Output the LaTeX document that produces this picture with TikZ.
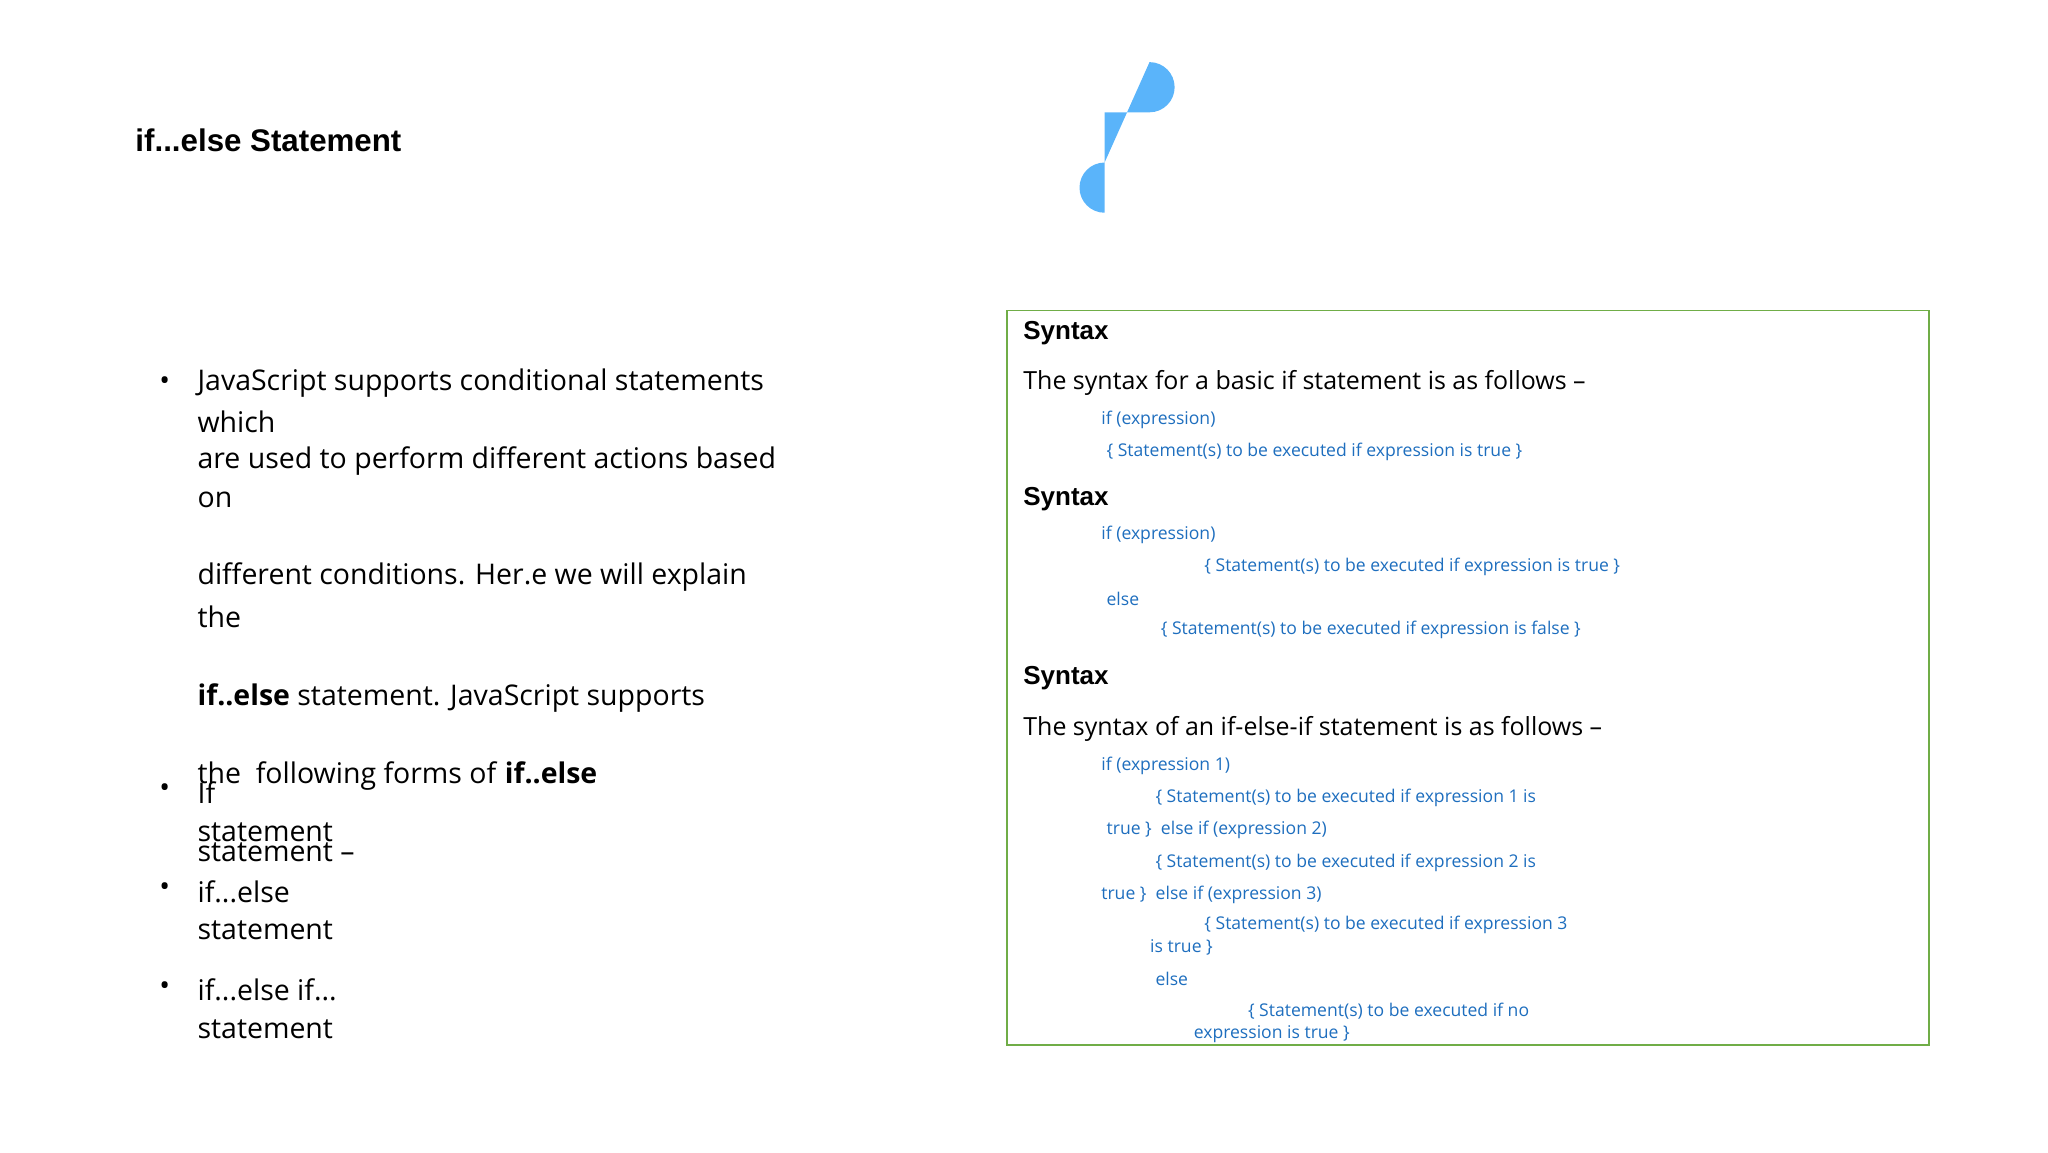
\documentclass[tikz,border=0pt]{standalone}
\usepackage{fontspec}
\setmainfont{Open Sans}
\newfontfamily\headfont{Liberation Sans}
\definecolor{codeBlue}{RGB}{30,110,190}
\definecolor{boxGreen}{RGB}{112,173,71}
\definecolor{blobBlue}{RGB}{90,180,250}
\begin{document}
\begin{tikzpicture}[
  x=0.01321cm, y=-0.01321cm,
  every node/.style={inner sep=0pt, anchor=west},
  title/.style={font=\headfont\fontsize{8.9}{10}\selectfont\bfseries},
  body/.style={font=\fontsize{8.1}{10}\selectfont},
  head/.style={font=\headfont\fontsize{7.4}{9}\selectfont\bfseries},
  plain/.style={font=\fontsize{7.1}{9}\selectfont},
  code/.style={font=\fontsize{5}{6}\selectfont, text=codeBlue},
  bullet/.style={font=\fontsize{8.1}{10}\selectfont}
]
\useasboundingbox (0,0) rectangle (1550,872);
% header
\node[title] (ttl) at (102,106) {if...else Statement};
\fill[blobBlue] (836,85) -- (870,85) arc (90:-90:19) -- (836,123) arc (270:90:19) -- cycle;
% left column
\foreach \y in {290,598,673,748}
  \node[bullet] (b\y) at (120,\y) {•};
\foreach \y/\t in {290/{JavaScript supports conditional statements},
  319/{which}, 349/{are used to perform different actions based}, 378/{on},
  437/{different conditions. Her.e we will explain}, 467/{the},
  528/{\textbf{if..else} statement. JavaScript supports},
  587/{the\ \ following forms of \textbf{if..else}},
  600/{If}, 630/{statement}, 645/{statement --},
  675/{if{.}..else}, 704/{statement}, 749/{if{.}..else if{.}..}, 779/{statement}}
  \node[body] (l\y) at (149,\y) {\t};
% right box
\draw[boxGreen] (762,235) rectangle (1460,791);
\node[head] (s1) at (774,252) {Syntax};
\node[plain] (p1) at (774,290) {The syntax for a basic if statement is as follows --};
\node[head] (s2) at (774,378) {Syntax};
\node[head] (s3) at (774,513) {Syntax};
\node[plain] (p3) at (774,552) {The syntax of an if-else-if statement is as follows --};
\foreach \x/\y/\t in {833/318/{if (expression)},
  837/342/{\{ Statement(s) to be executed if expression is true \}},
  833/405/{if (expression)},
  911/429/{\{ Statement(s) to be executed if expression is true \}},
  837/453/{else},
  878/477/{\{ Statement(s) to be executed if expression is false \}},
  833/580/{if (expression 1)},
  874/604/{\{ Statement(s) to be executed if expression 1 is},
  837/628/{true \}\ \ else if (expression 2)},
  874/653/{\{ Statement(s) to be executed if expression 2 is},
  833/677/{true \}\ \ else if (expression 3)},
  911/700/{\{ Statement(s) to be executed if expression 3},
  870/717/{is true \}},
  874/741/{else},
  944/765/{\{ Statement(s) to be executed if no},
  903/783/{expression is true \}}}
  \node[code] (c\y) at (\x,\y) {\t};
\end{tikzpicture}
\end{document}
